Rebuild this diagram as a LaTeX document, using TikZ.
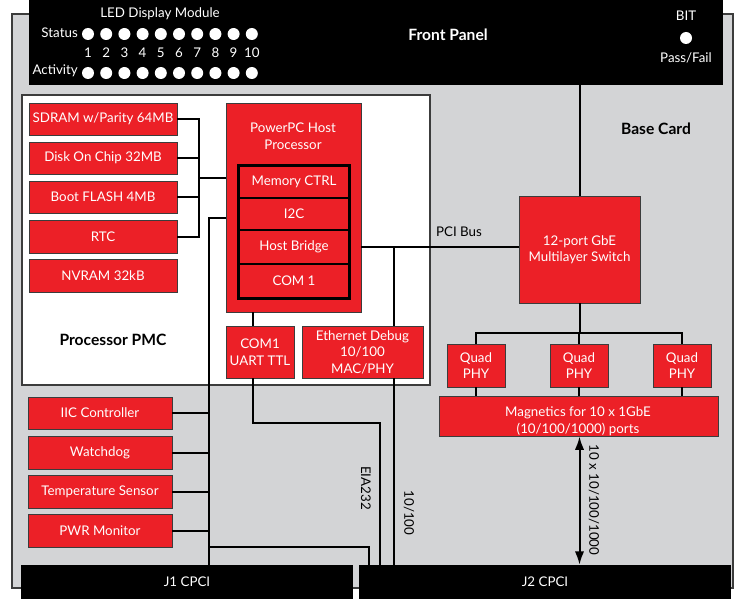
\documentclass[tikz,border=0pt]{standalone}
\usepackage{fontspec}
\setmainfont{Lato}
\usetikzlibrary{arrows.meta,positioning,fit}
\definecolor{cardgray}{HTML}{D3D4D6}
\definecolor{boxred}{HTML}{EC2027}
\definecolor{edgegray}{HTML}{3C3C3C}

\tikzset{
  txt/.style={font=\fontsize{10}{12.4}\selectfont,align=center,inner sep=0pt},
  boldtxt/.style={txt,font=\fontsize{11.7}{14}\bfseries},
  whitetxt/.style={txt,text=white},
  boxtext/.style={label={[whitetxt]center:#1}},
  redbox/.style={fill=boxred,draw=edgegray,line width=0.7pt,inner sep=0pt},
  subbox/.style={redbox,draw=black,line width=1.1pt},
  cardbox/.style={fill=cardgray,draw=edgegray,line width=1pt,inner sep=0pt},
  pmcbox/.style={fill=white,draw=edgegray,line width=1pt,inner sep=0pt},
  blackbar/.style={fill=black,inner sep=0pt},
  led/.style={circle,fill=white,inner sep=0pt,minimum size=9pt},
  conn/.style={line width=1.5pt}
}

\begin{document}
\begin{tikzpicture}[x=0.75pt,y=-0.75pt]
  \useasboundingbox (0,0) rectangle (742,599);
  % base card and front panel
  \node[cardbox, fit={(12,14) (733,588)}] (card) {};
  \node[boldtxt] (cardlbl) at (656,129) {Base Card};
  \node[blackbar, fit={(29,0) (723,85)}] (front) {};
  \node[boldtxt,text=white] (frontlbl) at (448,35) {Front Panel};
  \node[whitetxt] (ledlbl) at (160,14) {LED Display Module};
  \node[whitetxt,anchor=east] (statlbl) at (78,33) {Status};
  \node[whitetxt,anchor=east] (actlbl) at (78,71) {Activity};
  \foreach \i in {1,...,10} {
    \node[led] (st\i) at ({88+18.2*(\i-1)},34) {};
    \node[whitetxt] (num\i) at ({88+18.2*(\i-1)},53) {\i};
    \node[led] (ac\i) at ({88+18.2*(\i-1)},73) {};
  }
  \node[whitetxt] (bitlbl) at (686,16) {BIT};
  \node[led] (bitled) at (686,38) {};
  \node[whitetxt] (passlbl) at (686,58) {Pass/Fail};

  % processor PMC
  \node[pmcbox, fit={(22,95) (430,385)}] (pmc) {};
  \node[boldtxt] (pmclbl) at (113,340) {Processor PMC};
  \node[redbox, boxtext={SDRAM w/Parity 64MB}, fit={(29,103) (177,135)}] (sdram) {};
  \node[redbox, boxtext={Disk On Chip 32MB}, fit={(29,142) (177,174)}] (doc) {};
  \node[redbox, boxtext={Boot FLASH 4MB}, fit={(29,181) (177,213)}] (boot) {};
  \node[redbox, boxtext={RTC}, fit={(29,220) (177,253)}] (rtc) {};
  \node[redbox, boxtext={NVRAM 32kB}, fit={(29,259) (177,292)}] (nvram) {};

  \node[redbox, fit={(226,103) (361,312)}] (ppc) {};
  \node[whitetxt] (ppclbl) at (293,136) {PowerPC Host\\Processor};
  \node[subbox, boxtext={Memory CTRL}, fit={(239,166) (349,198)}] (memctrl) {};
  \node[subbox, boxtext={I2C}, fit={(239,198) (349,230)}] (i2c) {};
  \node[subbox, boxtext={Host Bridge}, fit={(239,230) (349,264)}] (hostbr) {};
  \node[subbox, boxtext={COM 1}, fit={(239,264) (349,298)}] (com1) {};
  \draw[line width=2pt] (memctrl.north west) rectangle (com1.south east);

  \node[redbox, boxtext={COM1\\UART TTL}, fit={(226,326) (294,378)}] (uart) {};
  \node[redbox, boxtext={Ethernet Debug\\10/100\\MAC/PHY}, fit={(302,326) (423,378)}] (ethdbg) {};

  % base card devices
  \node[redbox, boxtext={IIC Controller}, fit={(28,397) (172,429)}] (iic) {};
  \node[redbox, boxtext={Watchdog}, fit={(28,436) (172,469)}] (wdog) {};
  \node[redbox, boxtext={Temperature Sensor}, fit={(28,475) (172,508)}] (temp) {};
  \node[redbox, boxtext={PWR Monitor}, fit={(28,514) (172,547)}] (pwr) {};

  \node[redbox, boxtext={12-port GbE\\Multilayer Switch}, fit={(519,196) (640,303)}] (switch) {};
  \node[redbox, boxtext={Quad\\PHY}, fit={(447,344) (505,387)}] (phya) {};
  \node[redbox, boxtext={Quad\\PHY}, fit={(550,344) (608,387)}] (phyb) {};
  \node[redbox, boxtext={Quad\\PHY}, fit={(653,344) (711,387)}] (phyc) {};
  \node[redbox, fit={(439,396) (718,436)}] (mag) {};
  \node[whitetxt] (maglbl) at (578,421) {Magnetics for 10 x 1GbE\\(10/100/1000) ports};

  \node[blackbar, boxtext={J1 CPCI}, fit={(21,565) (353,599)}] (jone) {};
  \node[blackbar, boxtext={J2 CPCI}, fit={(359,565) (731,599)}] (jtwo) {};

  % memory bus
  \coordinate (membus) at (199,178);
  \draw[conn] (sdram.east) -| (membus) |- (rtc.east);
  \draw[conn] (doc.east) -- (doc.east -| membus);
  \draw[conn] (boot.east) -- (boot.east -| membus);
  \draw[conn] (membus) -- (ppc.west |- membus);

  % i2c bus
  \coordinate (iicbus) at (209,218);
  \coordinate (iicturn) at (209,547);
  \coordinate (iicdrop) at (369,547);
  \draw[conn] (ppc.west |- iicbus) -- (iicbus) -- (iicbus |- jone.north);
  \foreach \dev in {iic,wdog,temp,pwr}
    \draw[conn] (\dev.east) -- (\dev.east -| iicbus);
  \draw[conn] (iicturn) -- (iicdrop) -- (iicdrop |- jtwo.north);

  % serial
  \coordinate (uartline) at (253,423);
  \coordinate (eiaturn) at (380,423);
  \draw[conn] (ppc.south -| uartline) -- (uart.north -| uartline);
  \draw[conn] (uart.south -| uartline) -- (uartline) -- (eiaturn) -- (eiaturn |- jtwo.north);
  \node[txt,rotate=-90] (eialbl) at (366,488) {EIA232};

  % PCI bus and ethernet
  \coordinate (ethtap) at (394,248);
  \draw[conn] (ppc.east |- hostbr) -- (switch.west |- hostbr);
  \node[txt] (pcilbl) at (459,232) {PCI Bus};
  \draw[conn] (ethtap) -- (ethtap |- ethdbg.north);
  \draw[conn] (ethtap |- ethdbg.south) -- (ethtap |- jtwo.north);
  \node[txt,rotate=-90] (ethlbl) at (409,513) {10/100};

  \draw[conn] (switch.north |- front.south) -- (switch.north);
  \coordinate (physplit) at (579,333);
  \draw[conn] (switch.south) -- (switch.south |- physplit);
  \draw[conn] (phya.north) |- (physplit) -| (phyc.north);
  \draw[conn] (phyb.north) -- (phyb.north |- physplit);
  \foreach \p in {phya,phyb,phyc}
    \draw[conn] (\p.south) -- (\p.south |- mag.north);
  \draw[conn,{Latex[length=10pt,width=7pt]}-{Latex[length=10pt,width=7pt]}] (mag.south -| switch) -- (switch |- jtwo.north);
  \node[txt,rotate=-90] (gbelbl) at (594,500) {10 x 10/100/1000};
\end{tikzpicture}
\end{document}
